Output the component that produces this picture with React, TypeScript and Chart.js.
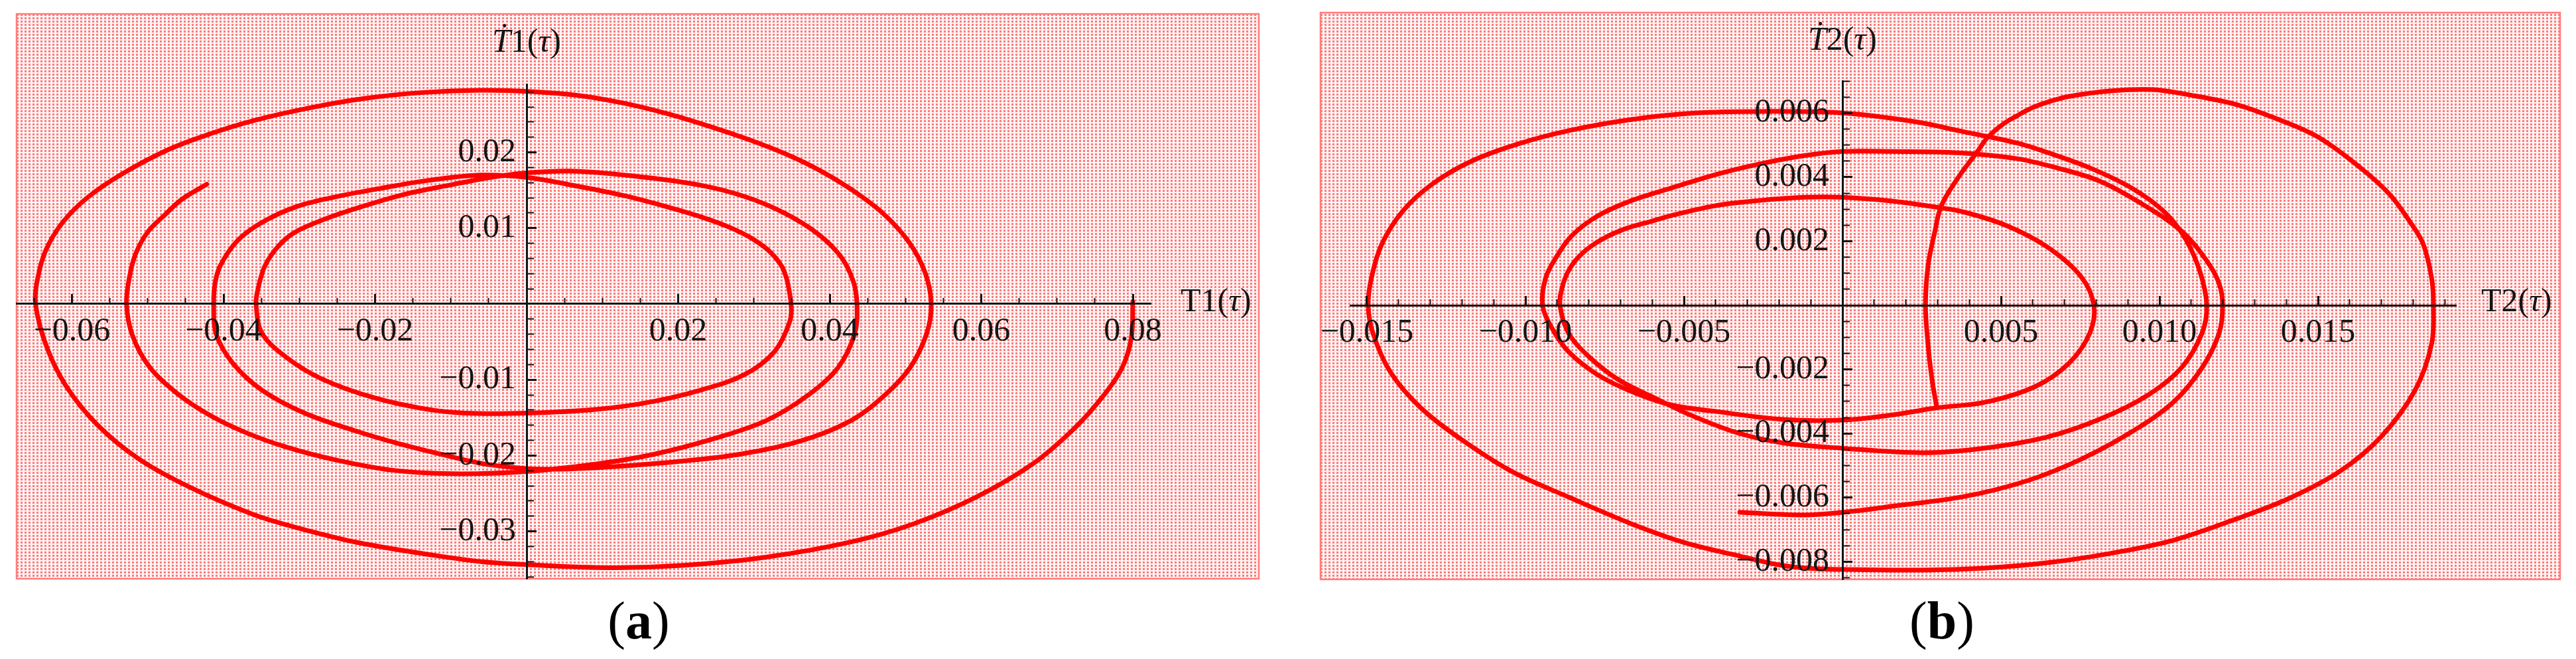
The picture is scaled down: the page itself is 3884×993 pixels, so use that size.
import React, { useEffect, useRef } from "react";
import { Chart, registerables } from "chart.js";

Chart.register(...registerables);

// ---------------- panel (a): T1(τ) vs dT1/dτ ----------------
const T1_tau: number[] = [
  0.0800, 0.0798, 0.0786, 0.0762, 0.0724, 0.0668, 0.0595, 0.0511, 0.0428, 0.0316, 0.0205, 0.0110, 0.0000, -0.0060, -0.0120, -0.0222, -0.0300, -0.0360, -0.0444, -0.0511, -0.0566, -0.0608, -0.0634, -0.0648,
  -0.0645, -0.0634, -0.0612, -0.0580, -0.0533, -0.0472, -0.0416, -0.0360, -0.0290, -0.0215, -0.0137, -0.0060, 0.0010, 0.0069, 0.0128, 0.0186, 0.0233, 0.0290, 0.0344, 0.0389, 0.0433, 0.0472, 0.0505, 0.0526, 0.0534,
  0.0528, 0.0506, 0.0473, 0.0428, 0.0361, 0.0277, 0.0177, 0.0093, 0.0020, -0.0050, -0.0110, -0.0170, -0.0221, -0.0293, -0.0349, -0.0388, -0.0410, -0.0413,
  -0.0411, -0.0404, -0.0382, -0.0352, -0.0305, -0.0249, -0.0190, -0.0130, -0.0060, 0.0000, 0.0069, 0.0128, 0.0186, 0.0233, 0.0268, 0.0298, 0.0323, 0.0340, 0.0349,
  0.0347, 0.0327, 0.0288, 0.0232, 0.0165, 0.0093, 0.0000, -0.0081, -0.0137, -0.0204, -0.0270, -0.0315, -0.0349, -0.0357,
  -0.0354, -0.0345, -0.0327, -0.0305, -0.0266, -0.0222, -0.0164, -0.0106, -0.0047, 0.0000, 0.0069, 0.0157, 0.0233, 0.0290, 0.0340, 0.0385, 0.0415, 0.0431, 0.0436,
  0.0433, 0.0411, 0.0372, 0.0316, 0.0243, 0.0165, 0.0093, 0.0000, -0.0098, -0.0180, -0.0260, -0.0320, -0.0370, -0.0416, -0.0460, -0.0497, -0.0520, -0.0528,
  -0.0524, -0.0516, -0.0500, -0.0477, -0.0455, -0.0422,
];
const T1dot_tau: number[] = [
  0.0003, -0.0045, -0.0084, -0.0120, -0.0163, -0.0211, -0.0254, -0.0290, -0.0314, -0.0334, -0.0345, -0.0348, -0.0344, -0.0340, -0.0332, -0.0315, -0.0296, -0.0278, -0.0242, -0.0205, -0.0160, -0.0108, -0.0055, 0.0000,
  0.0035, 0.0072, 0.0108, 0.0140, 0.0172, 0.0204, 0.0225, 0.0242, 0.0258, 0.0271, 0.0279, 0.0282, 0.0280, 0.0275, 0.0265, 0.0251, 0.0237, 0.0218, 0.0197, 0.0175, 0.0148, 0.0118, 0.0081, 0.0041, 0.0000,
  -0.0039, -0.0084, -0.0120, -0.0154, -0.0181, -0.0199, -0.0210, -0.0216, -0.0218, -0.0212, -0.0199, -0.0184, -0.0169, -0.0144, -0.0114, -0.0078, -0.0039, 0.0000,
  0.0028, 0.0051, 0.0083, 0.0106, 0.0128, 0.0142, 0.0153, 0.0163, 0.0170, 0.0167, 0.0155, 0.0143, 0.0128, 0.0114, 0.0101, 0.0086, 0.0067, 0.0043, 0.0000,
  -0.0024, -0.0063, -0.0093, -0.0113, -0.0129, -0.0139, -0.0144, -0.0144, -0.0138, -0.0123, -0.0099, -0.0072, -0.0039, 0.0000,
  0.0022, 0.0051, 0.0077, 0.0095, 0.0112, 0.0127, 0.0144, 0.0156, 0.0167, 0.0173, 0.0175, 0.0167, 0.0156, 0.0141, 0.0120, 0.0092, 0.0062, 0.0030, 0.0000,
  -0.0039, -0.0084, -0.0120, -0.0154, -0.0179, -0.0199, -0.0211, -0.0221, -0.0224, -0.0219, -0.0204, -0.0188, -0.0170, -0.0148, -0.0119, -0.0084, -0.0042, 0.0000,
  0.0036, 0.0066, 0.0095, 0.0118, 0.0138, 0.0158,
];

// ---------------- panel (b): T2(τ) vs dT2/dτ ----------------
const T2_tau: number[] = [
  0.00297, 0.00282, 0.00270, 0.00262, 0.00270, 0.00291, 0.00312, 0.00366, 0.00423, 0.00458, 0.00506, 0.00548, 0.00600, 0.00660, 0.00715, 0.00845, 0.00977, 0.01109, 0.01241, 0.01370, 0.01502, 0.01634, 0.01726, 0.01791, 0.01831, 0.01858, 0.01864,
  0.01858, 0.01805, 0.01699, 0.01569, 0.01410, 0.01241, 0.01044, 0.00845, 0.00649, 0.00452, 0.00255, 0.00000, -0.00100, -0.00200, -0.00330, -0.00500, -0.00670, -0.00860, -0.01040, -0.01200, -0.01330, -0.01425, -0.01480, -0.01496,
  -0.01485, -0.01452, -0.01385, -0.01293, -0.01172, -0.01025, -0.00864, -0.00665, -0.00464, -0.00262, 0.00000, 0.00228, 0.00366, 0.00548, 0.00649, 0.00780, 0.00912, 0.01017, 0.01082, 0.01128, 0.01149,
  0.01134, 0.01069, 0.00964, 0.00820, 0.00649, 0.00452, 0.00255, 0.00000, -0.00190, -0.00331, -0.00471, -0.00582, -0.00707, -0.00801, -0.00864, -0.00891,
  -0.00883, -0.00860, -0.00820, -0.00760, -0.00690, -0.00600, -0.00540, -0.00400, -0.00262, -0.00121, 0.00000, 0.00157, 0.00297, 0.00387, 0.00519, 0.00649, 0.00753, 0.00793,
  0.00780, 0.00715, 0.00609, 0.00452, 0.00297, 0.00157, 0.00000, -0.00190, -0.00400, -0.00540, -0.00665, -0.00772, -0.00864, -0.00916, -0.00946,
  -0.00937, -0.00906, -0.00854, -0.00770, -0.00665, -0.00540, -0.00400, -0.00262, -0.00121, 0.00000, 0.00157, 0.00366, 0.00548, 0.00660, 0.00808, 0.00937, 0.01069, 0.01149, 0.01188, 0.01199,
  0.01188, 0.01134, 0.01044, 0.00912, 0.00753, 0.00584, 0.00387, 0.00157, 0.00000, -0.00121, -0.00324,
];
const T2dot_tau: number[] = [
  -0.00317, -0.00228, -0.00124, 0.00000, 0.00124, 0.00228, 0.00311, 0.00400, 0.00476, 0.00524, 0.00565, 0.00590, 0.00617, 0.00638, 0.00652, 0.00669, 0.00673, 0.00654, 0.00627, 0.00582, 0.00524, 0.00429, 0.00346, 0.00259, 0.00193, 0.00087, 0.00000,
  -0.00122, -0.00267, -0.00410, -0.00518, -0.00602, -0.00667, -0.00733, -0.00774, -0.00803, -0.00820, -0.00826, -0.00824, -0.00821, -0.00810, -0.00781, -0.00740, -0.00680, -0.00600, -0.00520, -0.00420, -0.00320, -0.00210, -0.00090, 0.00000,
  0.00089, 0.00193, 0.00296, 0.00379, 0.00449, 0.00503, 0.00545, 0.00580, 0.00600, 0.00605, 0.00600, 0.00573, 0.00545, 0.00507, 0.00476, 0.00429, 0.00366, 0.00290, 0.00207, 0.00104, 0.00000,
  -0.00087, -0.00195, -0.00280, -0.00352, -0.00410, -0.00445, -0.00460, -0.00446, -0.00429, -0.00398, -0.00346, -0.00294, -0.00232, -0.00159, -0.00087, 0.00000,
  0.00060, 0.00115, 0.00163, 0.00205, 0.00237, 0.00263, 0.00280, 0.00311, 0.00327, 0.00337, 0.00337, 0.00325, 0.00306, 0.00290, 0.00248, 0.00180, 0.00089, 0.00000,
  -0.00087, -0.00180, -0.00253, -0.00302, -0.00320, -0.00342, -0.00358, -0.00356, -0.00331, -0.00311, -0.00269, -0.00217, -0.00145, -0.00072, 0.00000,
  0.00083, 0.00145, 0.00217, 0.00280, 0.00327, 0.00366, 0.00408, 0.00441, 0.00467, 0.00480, 0.00480, 0.00476, 0.00458, 0.00433, 0.00389, 0.00321, 0.00232, 0.00139, 0.00068, 0.00000,
  -0.00087, -0.00195, -0.00302, -0.00395, -0.00480, -0.00547, -0.00596, -0.00627, -0.00646, -0.00654, -0.00646,
];

// ---------------- tick values and labels ----------------
const xTicksA = [-0.06, -0.04, -0.02, 0.02, 0.04, 0.06, 0.08];
const xTickLabelsA = ["\u22120.06", "\u22120.04", "\u22120.02", "0.02", "0.04", "0.06", "0.08"];
const xMinorTicksA = [-0.065, -0.055, -0.05, -0.045, -0.035, -0.03, -0.025, -0.015, -0.01, -0.005, 0.005, 0.01, 0.015, 0.025, 0.03, 0.035, 0.045, 0.05, 0.055, 0.065, 0.07, 0.075];
const yTicksA = [-0.03, -0.02, -0.01, 0.01, 0.02];
const yTickLabelsA = ["\u22120.03", "\u22120.02", "\u22120.01", "0.01", "0.02"];
const yMinorTicksA = [-0.036, -0.034, -0.032, -0.028, -0.026, -0.024, -0.022, -0.018, -0.016, -0.014, -0.012, -0.008, -0.006, -0.004, -0.002, 0.002, 0.004, 0.006, 0.008, 0.012, 0.014, 0.016, 0.018, 0.022, 0.024, 0.026, 0.028];

const xTicksB = [-0.015, -0.01, -0.005, 0.005, 0.01, 0.015];
const xTickLabelsB = ["\u22120.015", "\u22120.010", "\u22120.005", "0.005", "0.010", "0.015"];
const xMinorTicksB = [-0.014, -0.013, -0.012, -0.011, -0.009, -0.008, -0.007, -0.006, -0.004, -0.003, -0.002, -0.001, 0.001, 0.002, 0.003, 0.004, 0.006, 0.007, 0.008, 0.009, 0.011, 0.012, 0.013, 0.014, 0.016, 0.017, 0.018, 0.019];
const yTicksB = [-0.008, -0.006, -0.004, -0.002, 0.002, 0.004, 0.006];
const yTickLabelsB = ["\u22120.008", "\u22120.006", "\u22120.004", "\u22120.002", "0.002", "0.004", "0.006"];
const yMinorTicksB = [-0.0085, -0.0075, -0.007, -0.0065, -0.0055, -0.005, -0.0045, -0.0035, -0.003, -0.0025, -0.0015, -0.001, -0.0005, 0.0005, 0.001, 0.0015, 0.0025, 0.003, 0.0035, 0.0045, 0.005, 0.0055, 0.0065, 0.007];

// ---------------- layout ----------------
const W = 1942;
const H = 993;
const FONT = "'Liberation Serif', 'Times New Roman', serif";

type Run = { t: string; i?: boolean; b?: boolean };

const panelA = {
  id: "a",
  xs: T1_tau, ys: T1dot_tau,
  xMin: -0.067309, xMax: 0.082363, yMin: -0.036252, yMax: 0.028984,
  pad: { left: 25, right: 207, top: 127, bottom: 121 },
  frame: { l: 25, t: 21, r: 1898, b: 872 },
  xMajor: xTicksA, xMajorLabels: xTickLabelsA, xMinor: xMinorTicksA,
  yMajor: yTicksA, yMajorLabels: yTickLabelsA, yMinor: yMinorTicksA,
  yLabelGap: 16, xLabelGap: 17,
  xName: [{ t: "T1(" }, { t: "\u03c4", i: true }, { t: ")" }] as Run[],
  yName: [{ t: "\u1e6a", i: true }, { t: "1(" }, { t: "\u03c4", i: true }, { t: ")" }] as Run[],
  xNameDx: 45, xNameDy: 11, yNameDy: 49,
  caption: [{ t: "(" }, { t: "a", b: true }, { t: ")" }] as Run[],
  captionX: 963, captionY: 962,
};

const panelB = {
  id: "b",
  xs: T2_tau, ys: T2dot_tau,
  xMin: -0.015523, xMax: 0.019351, yMin: -0.008551, yMax: 0.00700,
  pad: { left: 94, right: 181, top: 122, bottom: 120 },
  frame: { l: 49, t: 19, r: 1918, b: 873 },
  xMajor: xTicksB, xMajorLabels: xTickLabelsB, xMinor: xMinorTicksB,
  yMajor: yTicksB, yMajorLabels: yTickLabelsB, yMinor: yMinorTicksB,
  yLabelGap: 20, xLabelGap: 17,
  xName: [{ t: "T2(" }, { t: "\u03c4", i: true }, { t: ")" }] as Run[],
  yName: [{ t: "\u1e6a", i: true }, { t: "2(" }, { t: "\u03c4", i: true }, { t: ")" }] as Run[],
  xNameDx: 38, xNameDy: 9, yNameDy: 47,
  caption: [{ t: "(" }, { t: "b", b: true }, { t: ")" }] as Run[],
  captionX: 986, captionY: 962,
};

function drawRuns(ctx: CanvasRenderingContext2D, runs: Run[], x: number, y: number, align: "left" | "center", size: number) {
  const fontFor = (r: Run) => `${r.i ? "italic " : ""}${r.b ? "bold " : ""}${size}px ${FONT}`;
  let total = 0;
  for (const r of runs) {
    ctx.font = fontFor(r);
    total += ctx.measureText(r.t).width;
  }
  let cx = align === "center" ? x - total / 2 : x;
  ctx.textAlign = "left";
  ctx.textBaseline = "alphabetic";
  for (const r of runs) {
    ctx.font = fontFor(r);
    ctx.fillText(r.t, cx, y);
    cx += ctx.measureText(r.t).width;
  }
}

function makePattern(ctx: CanvasRenderingContext2D) {
  const c = document.createElement("canvas");
  c.width = 6;
  c.height = 5;
  const g = c.getContext("2d")!;
  g.fillStyle = "#fff5f5";
  g.fillRect(0, 0, 6, 5);
  g.fillStyle = "#ff7a7a";
  g.fillRect(1, 1, 3, 3);
  return ctx.createPattern(c, "repeat");
}

function makeDecor(p: any) {
  return {
    id: "decor_" + p.id,
    beforeDraw(chart: any) {
      const ctx: CanvasRenderingContext2D = chart.ctx;
      const f = p.frame;
      ctx.save();
      ctx.fillStyle = "#ffffff";
      ctx.fillRect(0, 0, W, H);
      const pat = makePattern(ctx);
      if (pat) ctx.fillStyle = pat;
      ctx.fillRect(f.l, f.t, f.r - f.l, f.b - f.t);
      ctx.strokeStyle = "#ff7c7c";
      ctx.lineWidth = 2.5;
      ctx.strokeRect(f.l, f.t, f.r - f.l, f.b - f.t);
      ctx.restore();
    },
    afterDraw(chart: any) {
      const ctx: CanvasRenderingContext2D = chart.ctx;
      const ax = chart.scales.x.getPixelForValue(0);
      const ay = chart.scales.y.getPixelForValue(0);
      ctx.save();
      ctx.fillStyle = "#151515";
      drawRuns(ctx, p.yName, ax, chart.chartArea.top - p.yNameDy, "center", 50);
      drawRuns(ctx, p.xName, chart.chartArea.right + p.xNameDx, ay + p.xNameDy, "left", 50);
      ctx.fillStyle = "#000000";
      drawRuns(ctx, p.caption, p.captionX, p.captionY, "center", 80);
      ctx.restore();
    },
  };
}

function buildConfig(p: any): any {
  const pxX = (W - p.pad.left - p.pad.right) / (p.xMax - p.xMin);
  const pxY = (H - p.pad.top - p.pad.bottom) / (p.yMax - p.yMin);
  const setTicks = (vals: number[]) => (scale: any) => {
    scale.ticks = vals.map((v) => ({ value: v }));
  };
  const noPad = (scale: any) => {
    scale.paddingLeft = 0;
    scale.paddingRight = 0;
    scale.paddingTop = 0;
    scale.paddingBottom = 0;
  };
  const tickFont = { family: FONT, size: 50, lineHeight: 1 };
  const axisScale = (axis: string, min: number, max: number, pos: any, vals: number[], len: number, width: number, border: boolean) => ({
    type: "linear",
    axis,
    min,
    max,
    position: pos,
    afterBuildTicks: setTicks(vals),
    afterFit: noPad,
    grid: { display: true, drawOnChartArea: false, drawTicks: true, tickLength: len, tickWidth: width, tickColor: "#141414", z: 1 },
    border: { display: border, color: "#141414", width: 3, z: 1 },
    ticks: { display: false },
  });
  const labelScale = (axis: string, min: number, max: number, pos: any, vals: number[], labels: string[]) => ({
    type: "linear",
    axis,
    min,
    max,
    position: pos,
    afterBuildTicks: setTicks(vals),
    afterFit: noPad,
    grid: { display: false, drawTicks: false, drawOnChartArea: false },
    border: { display: false },
    ticks: {
      display: true, autoSkip: false, maxRotation: 0, minRotation: 0, padding: 0,
      color: "#161616", font: tickFont, z: 1,
      callback: (_v: any, i: number) => labels[i],
    },
  });
  const points = p.xs.map((x: number, i: number) => ({ x, y: p.ys[i] }));
  return {
    type: "scatter",
    data: {
      datasets: [
        {
          data: points,
          showLine: true,
          borderColor: "#ff0000",
          borderWidth: 7,
          pointRadius: 0,
          pointHoverRadius: 0,
          tension: 0.35,
          fill: false,
          borderCapStyle: "round",
          borderJoinStyle: "round",
          xAxisID: "x",
          yAxisID: "y",
        },
      ],
    },
    options: {
      responsive: false,
      animation: false,
      devicePixelRatio: 1,
      events: [],
      layout: { padding: p.pad },
      plugins: { legend: { display: false }, tooltip: { enabled: false }, title: { display: false } },
      scales: {
        x: axisScale("x", p.xMin, p.xMax, { y: 0 }, p.xMajor, -16, 3, true),
        xMinor: axisScale("x", p.xMin, p.xMax, { y: 0 }, p.xMinor, -9, 2, false),
        y: axisScale("y", p.yMin, p.yMax, { x: 0 }, p.yMajor, -16, 3, true),
        yMinor: axisScale("y", p.yMin, p.yMax, { x: 0 }, p.yMinor, -11, 2, false),
        xLab: labelScale("x", p.xMin, p.xMax, { y: -p.xLabelGap / pxY }, p.xMajor, p.xMajorLabels),
        yLab: labelScale("y", p.yMin, p.yMax, { x: -p.yLabelGap / pxX }, p.yMajor, p.yMajorLabels),
      },
    },
    plugins: [makeDecor(p)],
  };
}

function Panel({ cfg, left }: { cfg: any; left: number }) {
  const ref = useRef<HTMLCanvasElement | null>(null);
  useEffect(() => {
    if (!ref.current) return;
    const chart = new Chart(ref.current, buildConfig(cfg));
    return () => chart.destroy();
  }, [cfg]);
  return (
    <canvas
      ref={ref}
      width={W}
      height={H}
      style={{ position: "absolute", left, top: 0, width: W, height: H, display: "block" }}
    />
  );
}

export default function App() {
  return (
    <div style={{ position: "absolute", left: 0, top: 0, width: 3884, height: 993, background: "#ffffff", overflow: "hidden" }}>
      <Panel cfg={panelA} left={0} />
      <Panel cfg={panelB} left={1942} />
    </div>
  );
}
